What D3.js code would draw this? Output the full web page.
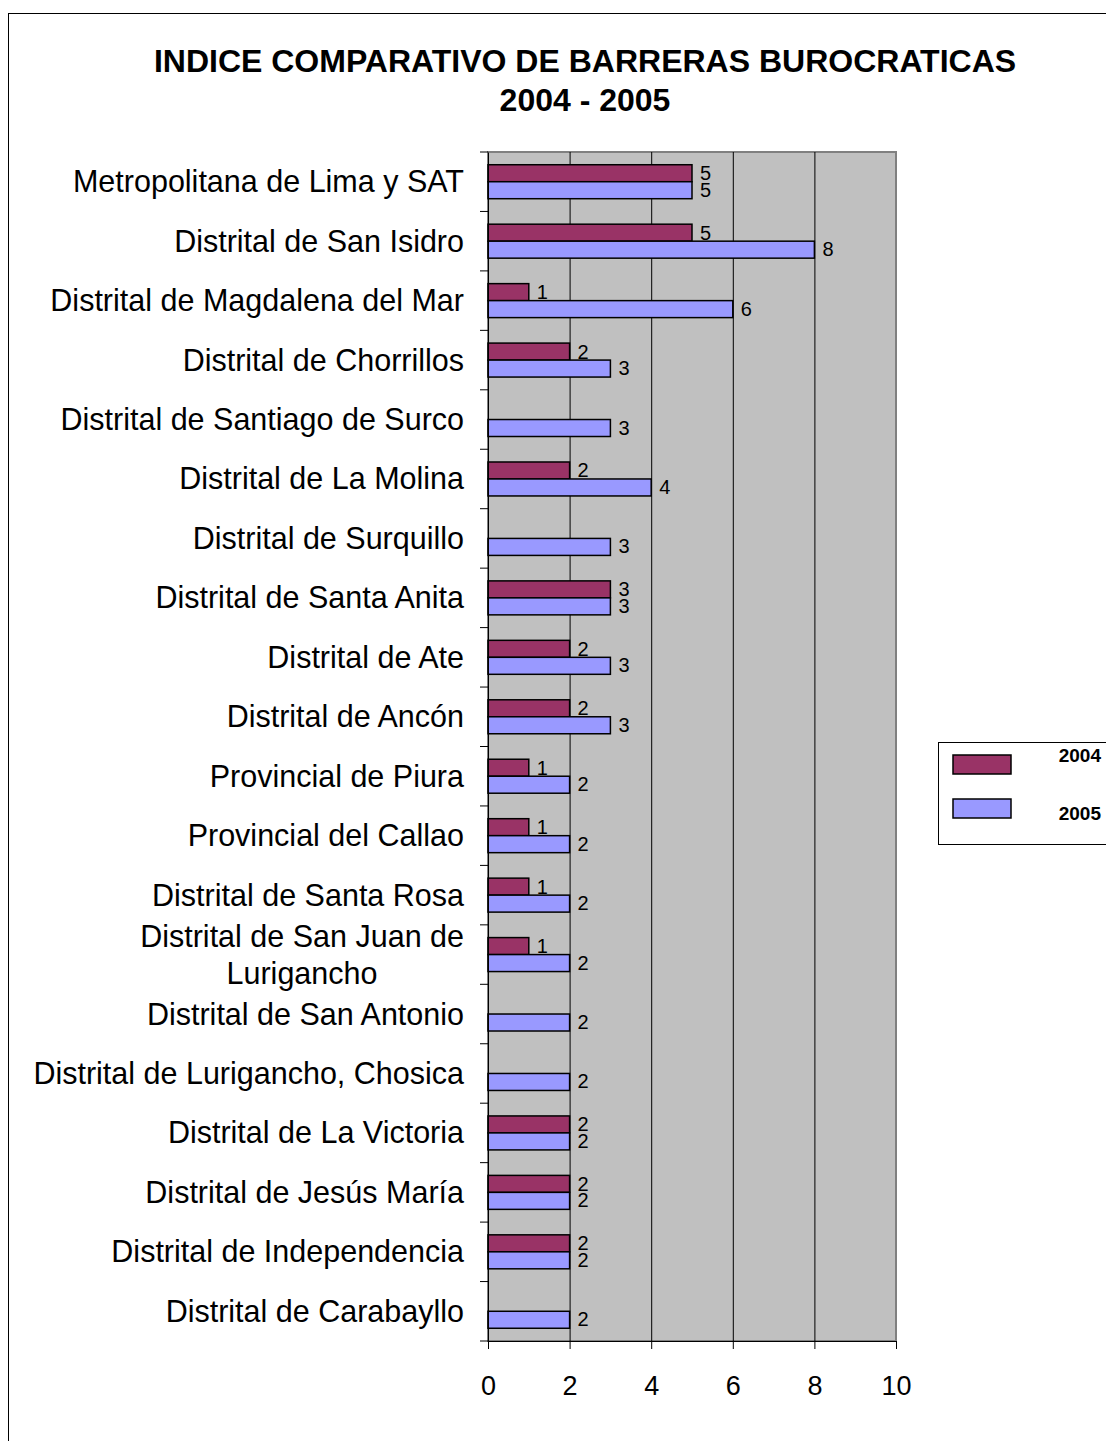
<!DOCTYPE html>
<html>
<head>
<meta charset="utf-8">
<script src="https://cdn.jsdelivr.net/npm/d3@7"></script>
<style>
  body { margin: 0; background: #fff; }
  svg text { font-family: "Liberation Sans", Arial, sans-serif; }
</style>
</head>
<body>
<script>
// categorias y valores
let categories = ["Metropolitana de Lima y SAT", "Distrital de San Isidro", "Distrital de Magdalena del Mar",
  "Distrital de Chorrillos", "Distrital de Santiago de Surco", "Distrital de La Molina", "Distrital de Surquillo",
  "Distrital de Santa Anita", "Distrital de Ate", "Distrital de Ancón", "Provincial de Piura", "Provincial del Callao",
  "Distrital de Santa Rosa", "Distrital de San Juan de Lurigancho", "Distrital de San Antonio",
  "Distrital de Lurigancho, Chosica", "Distrital de La Victoria", "Distrital de Jesús María",
  "Distrital de Independencia", "Distrital de Carabayllo"];
let values2004 = [5, 5, 1, 2, null, 2, null, 3, 2, 2, 1, 1, 1, 1, null, null, 2, 2, 2, null];
let values2005 = [5, 8, 6, 3, 3, 4, 3, 3, 3, 3, 2, 2, 2, 2, 2, 2, 2, 2, 2, 2];
let seriesNames = ["2004", "2005"];
let xTicks = [0, 2, 4, 6, 8, 10];

let width = 1106, height = 1441;
let pLeft = 488, pRight = 896, pTop = 152, pBottom = 1341;

let svg = d3.select('body').append('svg')
  .attr('width', width)
  .attr('height', height);

// marco exterior
svg.append('rect')
  .attr('x', 8.5).attr('y', 13.5)
  .attr('width', 1200).attr('height', 1500)
  .attr('fill', '#fff').attr('stroke', '#000').attr('stroke-width', 1);

// titulo
svg.append('text').attr('x', 585).attr('y', 72)
  .attr('text-anchor', 'middle').attr('font-size', 32).attr('font-weight', 'bold')
  .text('INDICE COMPARATIVO DE BARRERAS BUROCRATICAS');
svg.append('text').attr('x', 585).attr('y', 111)
  .attr('text-anchor', 'middle').attr('font-size', 32).attr('font-weight', 'bold')
  .text('2004 - 2005');

let x = d3.scaleLinear().domain([0, 10]).range([pLeft, pRight]);
let y = d3.scaleBand().domain(categories).range([pTop, pBottom]);
let bw = y.bandwidth() / 3.5; // ancho de barra (gap 150%)

// fondo del area
svg.append('rect')
  .attr('x', pLeft).attr('y', pTop)
  .attr('width', pRight - pLeft).attr('height', pBottom - pTop)
  .attr('fill', '#c0c0c0')
  .attr('stroke', '#808080').attr('stroke-width', 2);

// lineas de division
svg.selectAll('line.grid')
  .data(xTicks.slice(1, -1))
  .enter().append('line')
  .attr('class', 'grid')
  .attr('x1', d => x(d) + 0.5).attr('x2', d => x(d) + 0.5)
  .attr('y1', pTop).attr('y2', pBottom)
  .attr('stroke', '#000').attr('stroke-width', 1);

let rows = categories.map((c, i) => ({ cat: c, v: [values2004[i], values2005[i]] }));
let colors = ['#993366', '#9999ff'];

seriesNames.forEach(function(s, k) {
  let d = rows.filter(r => r.v[k] != null);
  let yPos = r => y(r.cat) + y.bandwidth() / 2 - bw + k * bw;
  svg.selectAll('rect.s' + k)
    .data(d)
    .enter().append('rect')
    .attr('class', 's' + k)
    .attr('x', x(0))
    .attr('y', yPos)
    .attr('width', r => x(r.v[k]) - x(0))
    .attr('height', bw)
    .attr('fill', colors[k])
    .attr('stroke', '#000').attr('stroke-width', 1.5);
  svg.selectAll('text.l' + k)
    .data(d)
    .enter().append('text')
    .attr('class', 'l' + k)
    .attr('x', r => x(r.v[k]) + 8)
    .attr('y', r => yPos(r) + bw - (k == 0 ? 1.5 : 2))
    .attr('font-size', 20)
    .text(r => r.v[k]);
});

// eje Y
let axisY = d3.axisLeft(y).tickSize(0).tickFormat('');
svg.append('g').attr('transform', `translate(${pLeft},0)`).call(axisY)
  .select('.domain').attr('stroke', '#000');
svg.selectAll('line.ytick')
  .data(d3.range(categories.length + 1))
  .enter().append('line')
  .attr('class', 'ytick')
  .attr('x1', pLeft - 8).attr('x2', pLeft)
  .attr('y1', i => pTop + i * y.step()).attr('y2', i => pTop + i * y.step())
  .attr('stroke', '#000');

// etiquetas de categorias
categories.forEach(function(c) {
  let cy = y(c) + y.bandwidth() / 2;
  if (c == "Distrital de San Juan de Lurigancho") {
    svg.append('text').attr('x', 464).attr('y', cy - 8).attr('text-anchor', 'end')
      .attr('font-size', 30.5).text('Distrital de San Juan de');
    svg.append('text').attr('x', 302).attr('y', cy + 29).attr('text-anchor', 'middle')
      .attr('font-size', 30.5).text('Lurigancho');
  } else {
    svg.append('text').attr('x', 464).attr('y', cy + 10.5).attr('text-anchor', 'end')
      .attr('font-size', 30.5).text(c);
  }
});

// eje X
let axisX = d3.axisBottom(x).tickValues(xTicks).tickSize(8).tickPadding(27);
let gx = svg.append('g').attr('transform', `translate(0,${pBottom})`).call(axisX);
gx.selectAll('text').attr('font-size', 27).attr('font-family', '"Liberation Sans", Arial, sans-serif').attr('fill', '#000');
gx.selectAll('line, path').attr('stroke', '#000');

// leyenda
let legend = svg.append('g');
legend.append('rect').attr('x', 938.5).attr('y', 742.5).attr('width', 200).attr('height', 102)
  .attr('fill', '#fff').attr('stroke', '#000');
seriesNames.forEach(function(s, k) {
  legend.append('rect').attr('x', 953).attr('y', 755 + k * 44).attr('width', 58).attr('height', 19)
    .attr('fill', colors[k]).attr('stroke', '#000').attr('stroke-width', 1.5);
  legend.append('text').attr('x', 1101).attr('y', 762 + k * 58).attr('text-anchor', 'end')
    .attr('font-size', 19).attr('font-weight', 'bold').text(s);
});
</script>
</body>
</html>
